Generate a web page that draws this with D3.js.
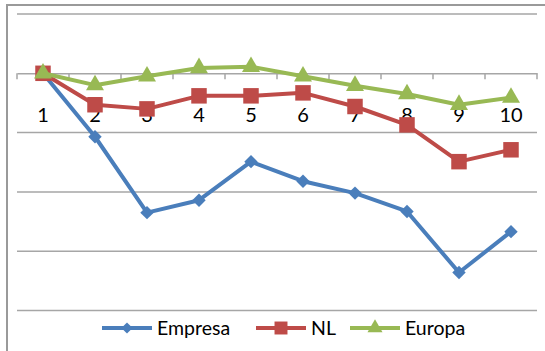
<!DOCTYPE html>
<html>
<head>
<meta charset="utf-8">
<script src="https://cdn.jsdelivr.net/npm/d3@7"></script>
<style>
  html, body { margin: 0; padding: 0; background: #fff; }
  svg { display: block; }
  text { font-family: Lato, "Open Sans", "Liberation Sans", sans-serif; fill: #000; }
</style>
</head>
<body>
<svg id="chart" width="545" height="351"></svg>
<script>
// Categories and series (percent change, gridlines every 10)
const categories = ["1", "2", "3", "4", "5", "6", "7", "8", "9", "10"];
const empresa = [0, -10.7, -23.5, -21.4, -14.9, -18.2, -20.2, -23.3, -33.6, -26.7];
const nl      = [0, -5.3, -6.0, -3.8, -3.8, -3.3, -5.6, -8.7, -14.9, -12.9];
const europa  = [0, -2.0, -0.5, 0.9, 1.1, -0.5, -2.1, -3.5, -5.3, -4.1];
const yTicks  = [10, 0, -10, -20, -30, -40];

// Diamond drawn as a square turned 45 degrees
const diamond = {
  draw(context, size) {
    const r = Math.sqrt(size / 2);
    context.moveTo(0, -r); context.lineTo(r, 0); context.lineTo(0, r); context.lineTo(-r, 0); context.closePath();
  }
};

const series = [
  { name: "Empresa", values: empresa, color: "#4A7EBB", symbol: diamond,           size: 90 },
  { name: "NL",      values: nl,      color: "#BE4B48", symbol: d3.symbolSquare,   size: 240 },
  { name: "Europa",  values: europa,  color: "#98B954", symbol: d3.symbolTriangle, size: 140 }
];

const svg = d3.select("#chart");
const plot = { left: 17, right: 537, top: 14, bottom: 310.5 };

const x = d3.scaleBand().domain(categories).range([plot.left, plot.right]).padding(0);
const y = d3.scaleLinear().domain([-40, 10]).range([plot.bottom, plot.top]);
const cx = c => x(c) + x.bandwidth() / 2;

// Chart area border
svg.append("rect")
  .attr("x", 7).attr("y", 5).attr("width", 600).attr("height", 400)
  .attr("fill", "none").attr("stroke", "#9a9a9a").attr("stroke-width", 2);

// Horizontal gridlines
svg.append("g").selectAll("line")
  .data(yTicks.filter(t => t !== 0))
  .join("line")
  .attr("x1", plot.left).attr("x2", plot.right)
  .attr("y1", d => y(d)).attr("y2", d => y(d))
  .attr("stroke", "#a6a6a6").attr("stroke-width", 1.5);

// Category axis crossing at zero, ticks pointing down at band edges
const axis = d3.axisBottom(x).tickSize(0).tickPadding(0).tickFormat("");
const axisG = svg.append("g").attr("transform", `translate(0,${y(0)})`).call(axis);
axisG.select(".domain").attr("stroke", "#a6a6a6").attr("stroke-width", 1.5);
axisG.selectAll(".tick").remove();
const edges = categories.map(c => x(c)).concat([plot.right]);
axisG.selectAll("line.edge")
  .data(edges)
  .join("line")
  .attr("class", "edge")
  .attr("x1", d => d).attr("x2", d => d)
  .attr("y1", 0).attr("y2", 6)
  .attr("stroke", "#a6a6a6").attr("stroke-width", 1.5);

// Category labels under the zero line
svg.append("g").selectAll("text")
  .data(categories)
  .join("text")
  .attr("x", d => cx(d))
  .attr("y", 122)
  .attr("text-anchor", "middle")
  .attr("font-size", 20)
  .text(d => d);

// Series lines and markers
const line = d3.line().x((d, i) => cx(categories[i])).y(d => y(d));
series.forEach(s => {
  const g = svg.append("g");
  g.append("path")
    .attr("d", line(s.values))
    .attr("fill", "none")
    .attr("stroke", s.color)
    .attr("stroke-width", 4)
    .attr("stroke-linejoin", "round");
  g.selectAll("path.marker")
    .data(s.values)
    .join("path")
    .attr("class", "marker")
    .attr("transform", (d, i) => `translate(${cx(categories[i])},${y(d)})`)
    .attr("d", d3.symbol().type(s.symbol).size(s.size))
    .attr("fill", s.color);
});

// Legend
const legendY = 328;
const legendItems = [
  { s: series[0], x0: 102 },
  { s: series[1], x0: 256 },
  { s: series[2], x0: 350 }
];
legendItems.forEach(({ s, x0 }) => {
  const g = svg.append("g");
  g.append("line")
    .attr("x1", x0).attr("x2", x0 + 50)
    .attr("y1", legendY).attr("y2", legendY)
    .attr("stroke", s.color).attr("stroke-width", 4);
  g.append("path")
    .attr("transform", `translate(${x0 + 25},${legendY})`)
    .attr("d", d3.symbol().type(s.symbol).size(s.size * 0.7))
    .attr("fill", s.color);
  g.append("text")
    .attr("x", x0 + 55)
    .attr("y", legendY + 7)
    .attr("font-size", 19.5)
    .text(s.name);
});
</script>
</body>
</html>
